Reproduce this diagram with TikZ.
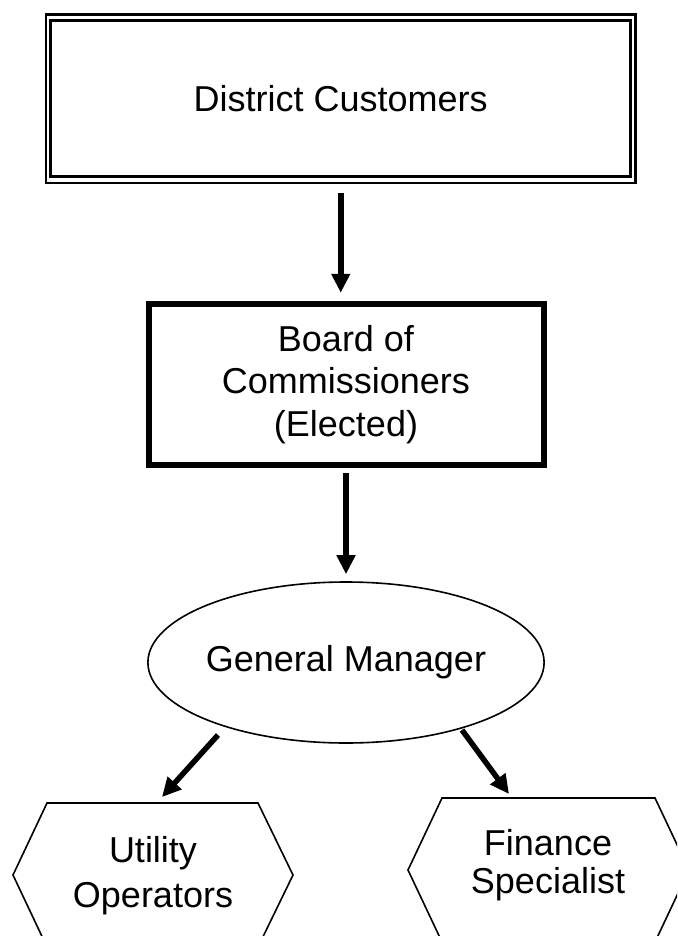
\documentclass[tikz,border=0pt]{standalone}
\usepackage{fontspec}
\setmainfont{Liberation Sans}
\usetikzlibrary{arrows.meta,shapes.geometric}
\begin{document}
\begin{tikzpicture}[x=1pt,y=-1pt,
  lbl/.style={font=\fontsize{36}{42.5}\selectfont, align=center},
  arr/.style={line width=5.5pt, -{Triangle[length=19pt,width=18pt]}},
  thinline/.style={line width=1.6pt},
]
\useasboundingbox (0,0) rectangle (677,936);
\fill[white] (0,0) rectangle (677,936);
\clip (0,0) rectangle (677,936);

% District Customers (double border)
\node[draw, line width=2.5pt, minimum width=589.5pt, minimum height=168.5pt, inner sep=0pt, lbl] (dc) at (340.75,98.75) {District Customers};
\draw[line width=3pt] ([xshift=5.5pt,yshift=-7pt]dc.north west) rectangle ([xshift=-6pt,yshift=8pt]dc.south east);

% Board of Commissioners
\node[draw, line width=6pt, minimum width=395pt, minimum height=161.3pt, inner sep=0pt, lbl] (bc) at (346,384.4) {Board of\\Commissioners\\(Elected)};

% General Manager
\node[ellipse, draw, thinline, minimum width=392pt, minimum height=161pt, inner sep=0pt, lbl] (gm) at (346,662.5) {General Manager};

% Hexagon labels
\node[lbl, font=\fontsize{36}{45}\selectfont] (uo) at (153,875.7) {Utility\\Operators};
\node[lbl, font=\fontsize{36}{38}\selectfont] (fs) at (548,865.2) {Finance\\Specialist};

% Hexagon outlines
\draw[thinline] (47,803) -- (258,803) -- (293,875) -- (258,947) -- (47,947) -- (13,875) -- cycle;
\draw[thinline] (442,798) -- (655,798) -- (689,870) -- (655,942) -- (442,942) -- (408,870) -- cycle;

% Connectors
\draw[arr] ([yshift=-9pt]dc.south) -- ([yshift=8pt]dc.south |- bc.north);
\draw[arr] ([yshift=-5pt]bc.south) -- ([yshift=7pt]gm.north);
\coordinate (s1) at (218,735);
\coordinate (t1) at (162,797);
\coordinate (s2) at (462,730);
\coordinate (t2) at (509,794);
\draw[arr] (s1) -- (t1);
\draw[arr] (s2) -- (t2);
\end{tikzpicture}
\end{document}
